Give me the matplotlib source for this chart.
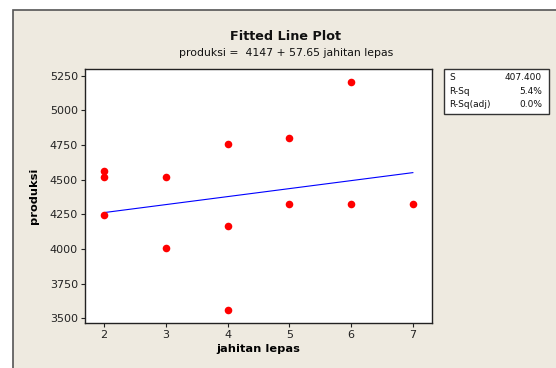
import matplotlib
matplotlib.use("Agg")
import matplotlib.pyplot as plt
from matplotlib.patches import Rectangle
import numpy as np

# Data
jahitan_lepas = [2, 2, 2, 3, 3, 4, 4, 4, 5, 5, 6, 6, 7]
produksi = [4563, 4519, 4245, 4520, 4005, 4760, 4164, 3562, 4801, 4322, 5202, 4322, 4322]
intercept = 4147
slope = 57.65
stat_names = ["S", "R-Sq", "R-Sq(adj)"]
stat_values = ["407.400", "5.4%", "0.0%"]
x_ticks = [2, 3, 4, 5, 6, 7]
y_ticks = [3500, 3750, 4000, 4250, 4500, 4750, 5000, 5250]

W, H = 556, 368
DPI = 100
plt.rcParams['font.family'] = ['DejaVu Sans']
fig = plt.figure(figsize=(W / DPI, H / DPI), dpi=DPI)
fig.patch.set_facecolor("white")

BG = "#EEEAE0"

def px(x0, y0, x1, y1):
    return [x0 / W, 1 - y1 / H, (x1 - x0) / W, (y1 - y0) / H]

# Background axes with outer frame
bg = fig.add_axes([0, 0, 1, 1], zorder=-5)
bg.set_xlim(0, W)
bg.set_ylim(H, 0)
bg.axis("off")
bg.add_patch(Rectangle((13, 10), W + 20, H + 20, facecolor=BG, edgecolor="#555555", linewidth=1.2))
# Stats box
bg.add_patch(Rectangle((444, 69), 549 - 444, 114 - 69, facecolor="white", edgecolor="#333333",
                       linewidth=1.0))
row_y = [77.7, 91, 104.3]
for nm, val, yy in zip(stat_names, stat_values, row_y):
    bg.text(449, yy, nm, ha="left", va="center", fontsize=6.5, color="#111111")
    bg.text(542, yy, val, ha="right", va="center", fontsize=6.5, color="#111111")
bg.text(286, 36, "Fitted Line Plot", ha="center", va="center",
        fontsize=9.2, fontweight="bold", color="#111111")
bg.text(286, 53, "produksi =  4147 + 57.65 jahitan lepas", ha="center", va="center",
        fontsize=7.8, color="#111111")

ax = fig.add_axes(px(85, 69, 432, 323), zorder=2)
ax.set_facecolor("white")
ax.scatter(jahitan_lepas, produksi, s=30, color="#FF0000", zorder=3, linewidths=0)
xl = np.array([min(jahitan_lepas), max(jahitan_lepas)])
ax.plot(xl, intercept + slope * xl, color="#0000FF", lw=0.8, zorder=2)
ax.set_xlim(1.692, 7.31)
ax.set_ylim(3466, 5298)
ax.set_xticks(x_ticks)
ax.set_yticks(y_ticks)
ax.tick_params(direction="out", length=3, width=0.8, labelsize=8, pad=2, colors="#222222")
for sp in ax.spines.values():
    sp.set_linewidth(1.0)
    sp.set_color("#222222")
ax.set_xlabel("jahitan lepas", fontsize=8.2, fontweight="bold", labelpad=3)
ax.set_ylabel("produksi", fontsize=8.2, fontweight="bold", labelpad=8)

fig.savefig("out.png", dpi=DPI, facecolor=fig.get_facecolor())
